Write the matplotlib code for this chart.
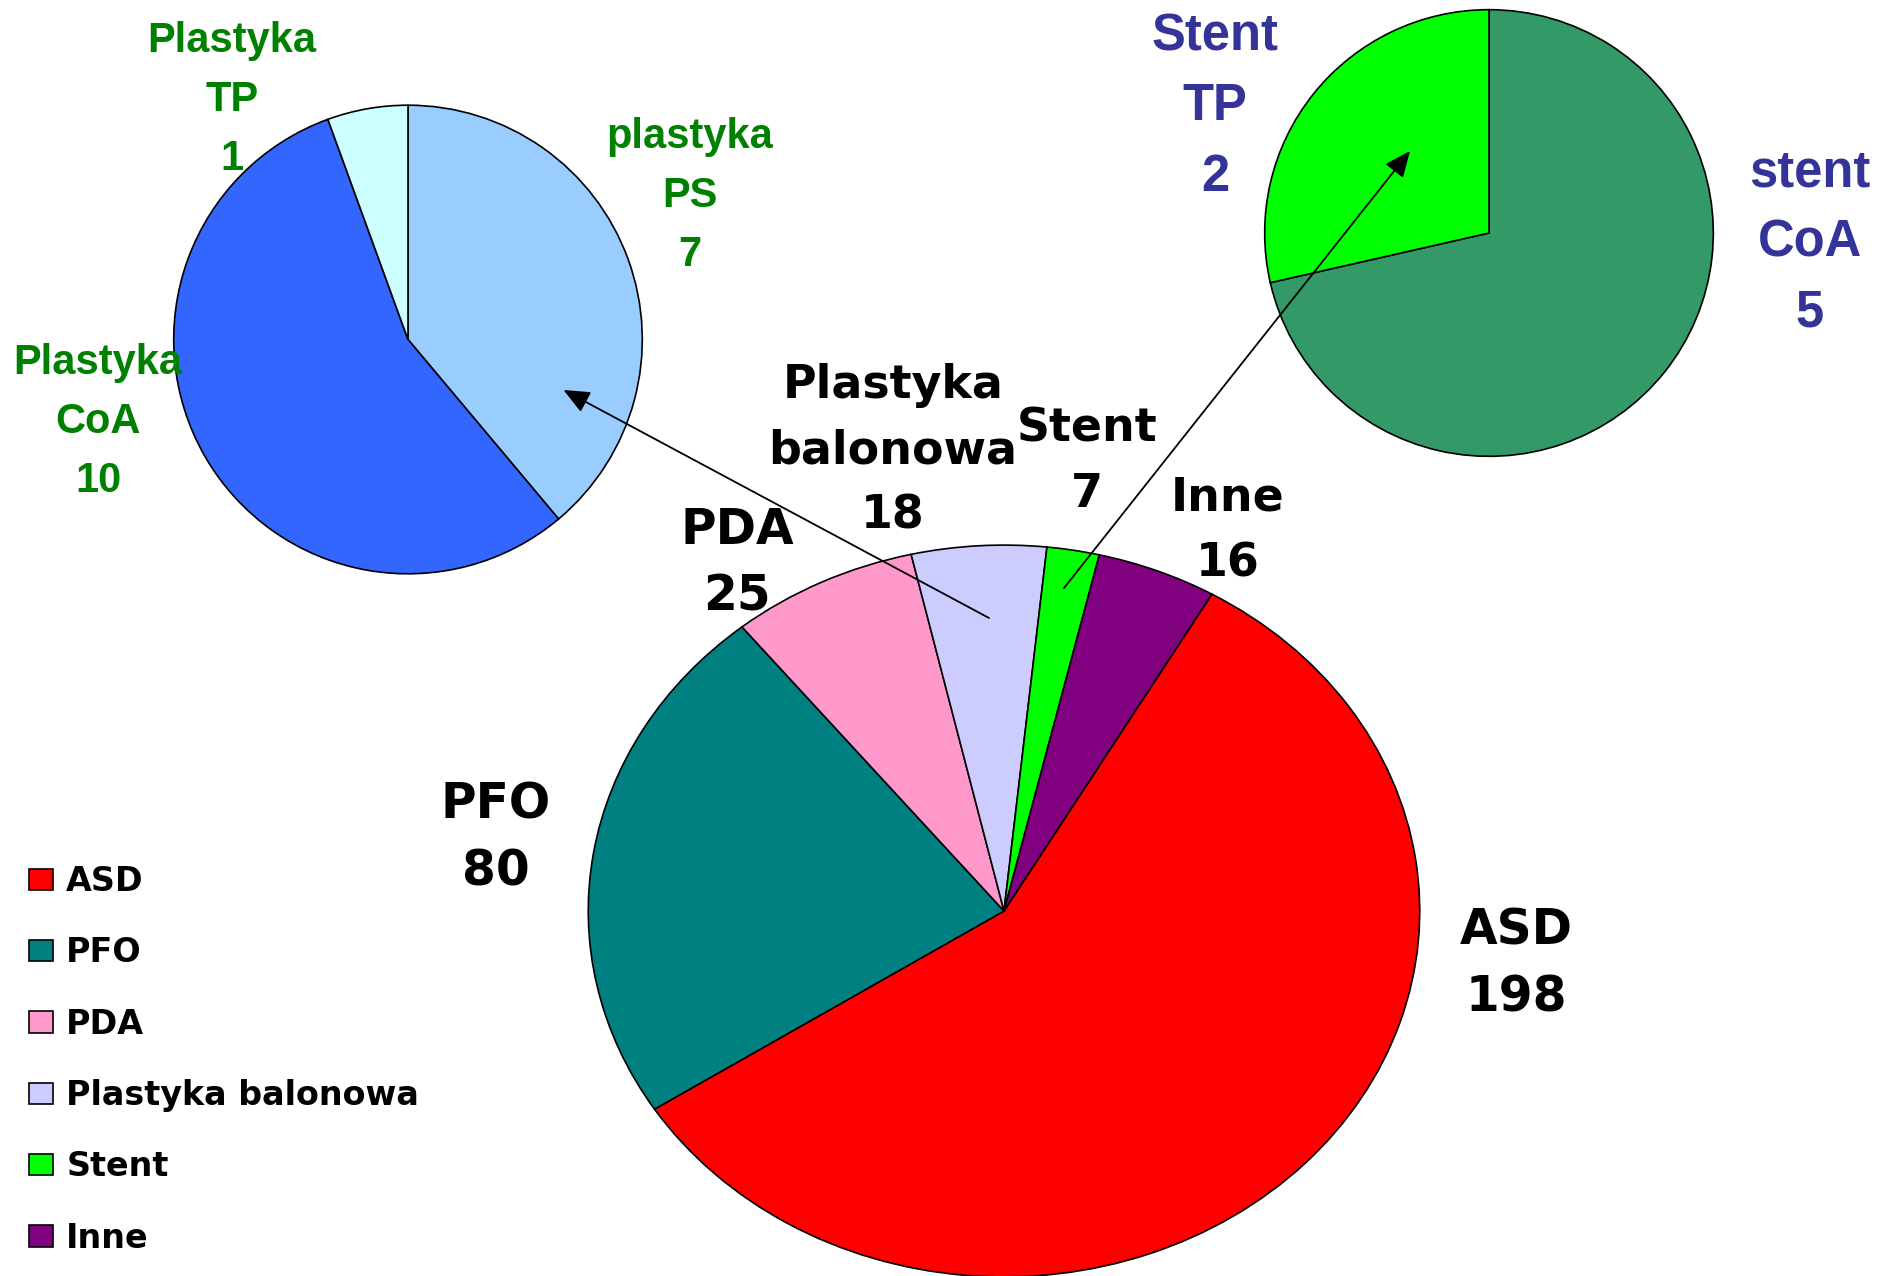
import matplotlib.pyplot as plt
from matplotlib.patches import FancyArrowPatch

W, H = 1880, 1276

# main pie data
kategorie = ['ASD', 'PFO', 'PDA', 'Plastyka balonowa', 'Stent', 'Inne']
liczby = [198, 80, 25, 18, 7, 16]
kolory = ['#FF0000', '#008080', '#FF99CC', '#CCCCFF', '#00FF00', '#800080']

# breakdown of "Plastyka balonowa"
plastyka_kat = ['plastyka PS', 'Plastyka CoA', 'Plastyka TP']
plastyka_n = [7, 10, 1]
plastyka_kol = ['#99CCFF', '#3366FF', '#CCFFFF']

# breakdown of "Stent"
stent_kat = ['stent CoA', 'Stent TP']
stent_n = [5, 2]
stent_kol = ['#339966', '#00FF00']

# label positions (pixels, visual centre of the text block)
main_xy = [(1516, 964), (496, 838), (737, 563), (893, 451), (1087, 462), (1228, 531)]
main_fs = [35, 35, 35, 33, 33, 33]
main_ls = [1.49, 1.49, 1.49, 1.58, 1.58, 1.58]
plastyka_xy = [(690, 196), (98, 422), (232, 100)]
stent_xy = [(1810, 243), (1215, 107)]


def fx(x):
    return x / W


def fy(y):
    return 1 - y / H


def pie_ax(cx, cy, rx, ry):
    return fig.add_axes([fx(cx - rx), fy(cy + ry), 2 * rx / W, 2 * ry / H])


def rysuj_pie(ax, vals, cols, start=90):
    wedges, _ = ax.pie(vals, colors=cols, startangle=start, counterclock=False,
                       wedgeprops=dict(edgecolor='black', linewidth=1.2))
    ax.set_aspect('auto')
    ax.set_xlim(-1.003, 1.003)
    ax.set_ylim(-1.003, 1.003)
    ax.axis('off')
    return wedges


fig = plt.figure(figsize=(18.8, 12.76), dpi=100)

ax_main = pie_ax(1004, 911, 417, 367)
ax_pl = pie_ax(408, 339.5, 235, 235)
ax_st = pie_ax(1489, 233, 225, 224)

w_main = rysuj_pie(ax_main, liczby, kolory, start=60)
rysuj_pie(ax_pl, plastyka_n, plastyka_kol)
rysuj_pie(ax_st, stent_n, stent_kol)

# labels
for k, n, (x, y), fs, ls in zip(kategorie, liczby, main_xy, main_fs, main_ls):
    fig.text(fx(x), fy(y), k.replace(' ', '\n') + '\n' + str(n), ha='center', va='center',
             fontsize=fs, fontweight='bold', family='DejaVu Sans', linespacing=ls,
             multialignment='center', color='black')

for k, n, (x, y) in zip(plastyka_kat, plastyka_n, plastyka_xy):
    fig.text(fx(x), fy(y), k.replace(' ', '\n') + '\n' + str(n), ha='center', va='center',
             fontsize=30, fontweight='bold', family='Liberation Sans', linespacing=1.6,
             multialignment='center', color='#008000')

for k, n, (x, y) in zip(stent_kat, stent_n, stent_xy):
    fig.text(fx(x), fy(y), k.replace(' ', '\n') + '\n' + str(n), ha='center', va='center',
             fontsize=36.5, fontweight='bold', family='Liberation Sans', linespacing=1.56,
             multialignment='center', color='#333399')

# arrows from main slices to the breakdown pies
for (x0, y0), (x1, y1) in [((989, 618), (563.5, 390)), ((1064, 588), (1410, 151))]:
    fig.add_artist(FancyArrowPatch((fx(x0), fy(y0)), (fx(x1), fy(y1)),
                                   transform=fig.transFigure,
                                   arrowstyle='-|>,head_length=0.8,head_width=0.35',
                                   mutation_scale=20, lw=1.3, color='black',
                                   shrinkA=0, shrinkB=0))

# legend
fig.legend(w_main, kategorie, loc='upper left', bbox_to_anchor=(fx(29), fy(865)),
           frameon=False, borderpad=0, borderaxespad=0,
           handlelength=0.72, handleheight=0.6, handletextpad=0.4, labelspacing=1.15,
           prop=dict(family='DejaVu Sans', weight='bold', size=24))

fig.savefig('out.png', dpi=100)
